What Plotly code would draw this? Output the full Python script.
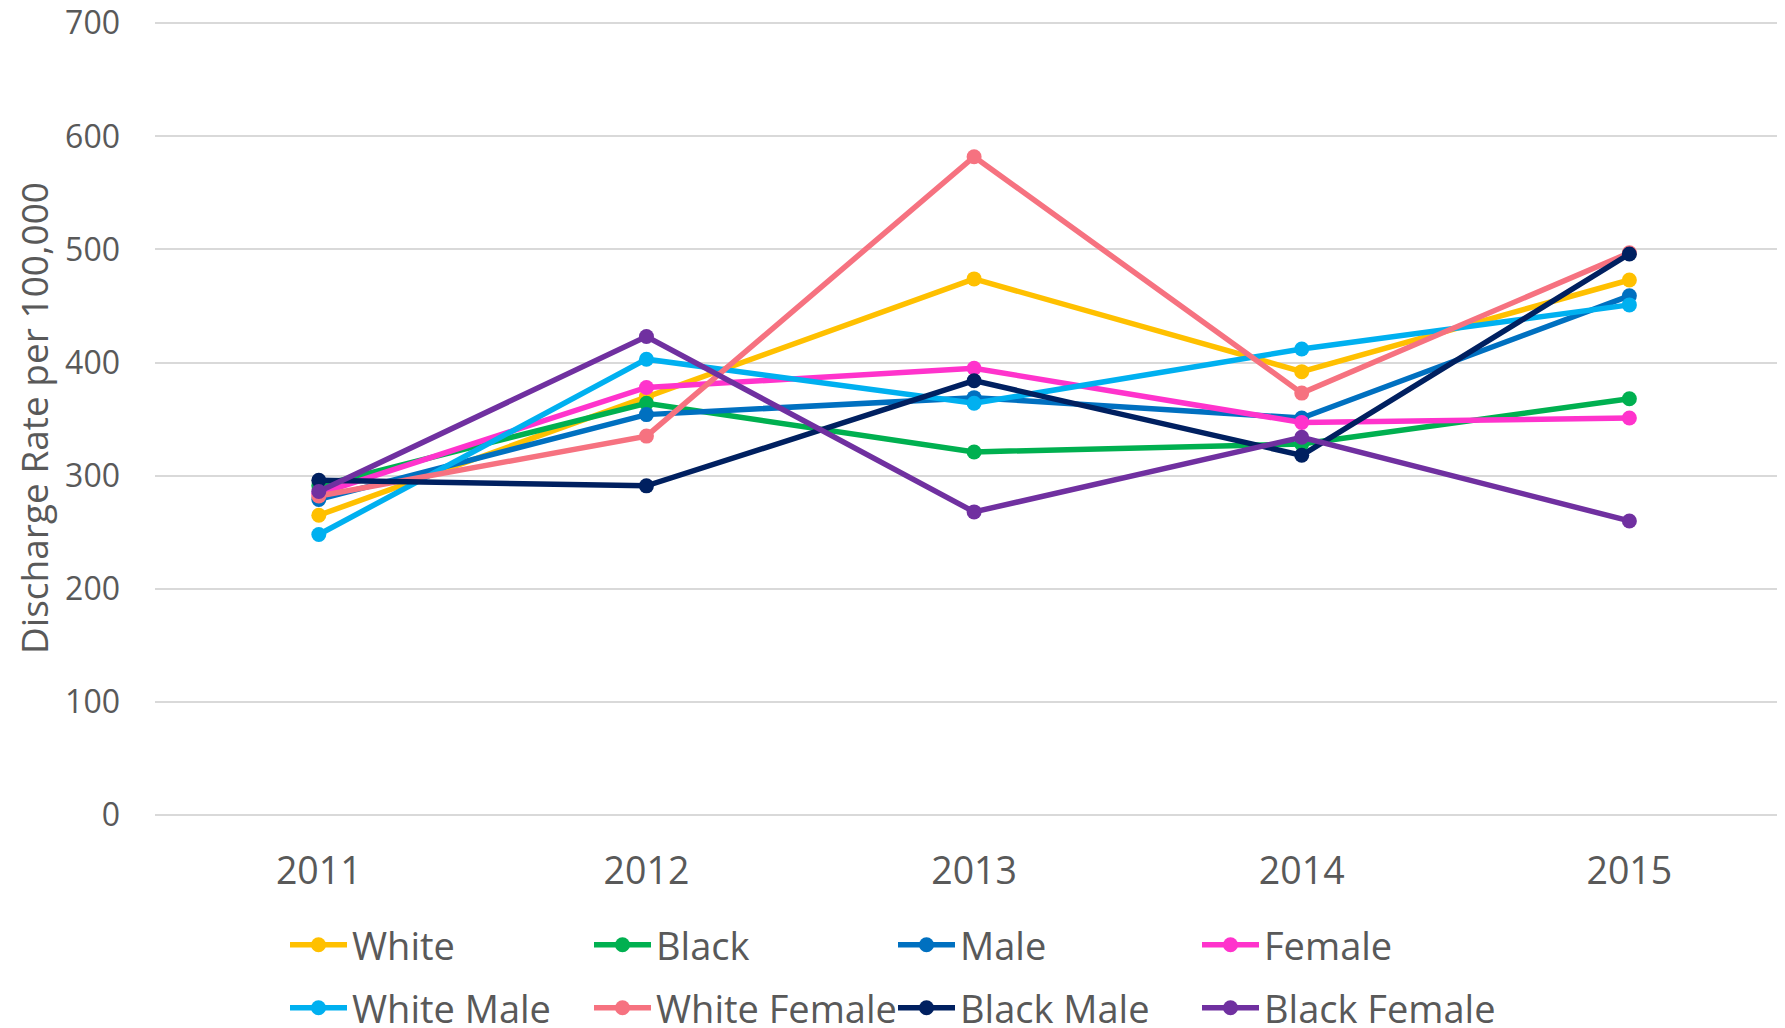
import plotly.graph_objects as go

years = ["2011", "2012", "2013", "2014", "2015"]
white = [265, 370, 474, 392, 473]
black = [291, 364, 321, 328, 368]
male = [279, 354, 369, 351, 459]
female = [284, 378, 395, 347, 351]
white_male = [248, 403, 364, 412, 451]
white_female = [282, 335, 582, 373, 497]
black_male = [296, 291, 384, 318, 496]
black_female = [286, 423, 268, 334, 260]

series = [
    ("White", white, "#FFC000", "legend"),
    ("Black", black, "#00B050", "legend"),
    ("Male", male, "#0070C0", "legend"),
    ("Female", female, "#FF33CC", "legend"),
    ("White Male", white_male, "#00B0F0", "legend2"),
    ("White Female", white_female, "#F67280", "legend2"),
    ("Black Male", black_male, "#002060", "legend2"),
    ("Black Female", black_female, "#7030A0", "legend2"),
]

fig = go.Figure()
for name, vals, color, lg in series:
    fig.add_trace(go.Scatter(
        x=years, y=vals, name=name, mode="lines+markers",
        line=dict(color=color, width=5.5),
        marker=dict(color=color, size=15),
        legend=lg,
    ))

W, H = 1777, 1020
font_main = "Open Sans, Segoe UI, sans-serif"
legend_common = dict(
    orientation="h", xref="container", yref="container",
    xanchor="left", yanchor="middle",
    font=dict(family=font_main, size=38, color="#595959"),
    itemwidth=57, entrywidth=232, entrywidthmode="pixels",
    bgcolor="rgba(0,0,0,0)", traceorder="normal",
)

fig.update_layout(
    width=W, height=H,
    margin=dict(l=147, r=0, t=13, b=213, autoexpand=False),
    paper_bgcolor="white", plot_bgcolor="white",
    font=dict(family=font_main, color="#595959"),
    showlegend=True,
    legend=dict(legend_common, x=277 / W, y=1 - 937 / H),
    legend2=dict(legend_common, x=277 / W, y=1 - 1000 / H),
    xaxis=dict(
        type="category", range=[-0.5, 4.475], automargin=False,
        showgrid=False, showline=False, zeroline=False,
        tickfont=dict(size=37.5, color="#595959"),
        ticks="", ticklabelstandoff=30,
    ),
    yaxis=dict(
        range=[0, 702], tickvals=[0, 100, 200, 300, 400, 500, 600, 700],
        automargin=False,
        showgrid=True, gridcolor="#D9D9D9", gridwidth=1.5,
        zeroline=True, zerolinecolor="#D9D9D9", zerolinewidth=1.5,
        showline=False,
        tickfont=dict(size=32, color="#595959"),
        ticks="", ticklabelstandoff=34, ticklabeloverflow="allow",
        title=dict(text="Discharge Rate per 100,000",
                   font=dict(size=37, color="#595959"), standoff=12),
    ),
)

fig.write_html("out.html")
